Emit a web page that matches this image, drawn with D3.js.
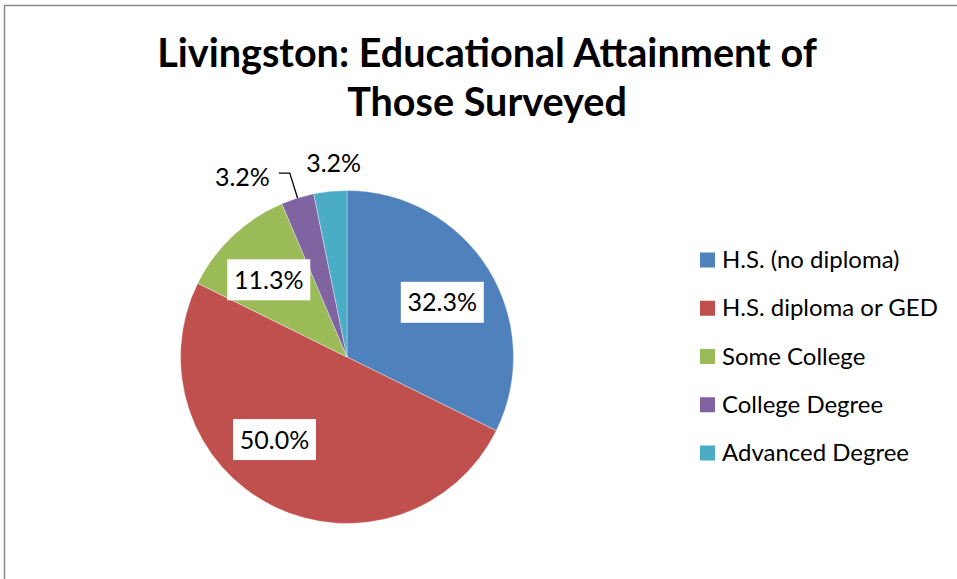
<!DOCTYPE html>
<html>
<head>
<meta charset="utf-8">
<script src="https://cdn.jsdelivr.net/npm/d3@7"></script>
<style>
  html, body { margin: 0; padding: 0; background: #fff; }
  svg { display: block; font-family: Lato, "Open Sans", "DejaVu Sans", sans-serif; }
</style>
</head>
<body>
<svg id="chart" width="957" height="579"></svg>
<script>
// Survey data: share of respondents by highest level of education (percent)
const categories = ["H.S. (no diploma)", "H.S. diploma or GED", "Some College", "College Degree", "Advanced Degree"];
const shares = [32.3, 50.0, 11.3, 3.2, 3.2];
const titleLines = ["Livingston: Educational Attainment of", "Those Surveyed"];

// Styling / layout
const colors = ["#4F81BD", "#C0504D", "#9BBB59", "#8064A2", "#4BACC6"];
const W = 957, H = 579;
const cx = 347, cy = 357, R = 166.5;
const insideR = 0.66 * R;
const outsideR = 193;
// best-fit placement tweaks for individual labels (degrees / radius)
const labelAngleShift = [2, 15, -2, 0, 0];
const leaderLabel = { index: 3, angle: 329.9, radius: 208.6 };

const svg = d3.select("#chart");
const deg = Math.PI / 180;

// Chart area border (left and top edges visible)
svg.append("path")
  .attr("d", `M4.5,${H + 2} L4.5,5.5 L${W + 2},5.5`)
  .attr("fill", "none")
  .attr("stroke", "#8a8a8a")
  .attr("stroke-width", 1.5);

// Title, each line fitted to its measured width
function fitText(sel, target) {
  const w = sel.node().getComputedTextLength();
  const fs = parseFloat(sel.attr("font-size"));
  sel.attr("font-size", fs * target / w);
}
const title = svg.append("g").attr("font-weight", "bold").attr("fill", "#000").attr("text-anchor", "middle");
const t1 = title.append("text").attr("x", 487).attr("y", 66.5).attr("font-size", 36).text(titleLines[0]);
fitText(t1, 660);
const t2 = title.append("text").attr("x", 487).attr("y", 115.5).attr("font-size", parseFloat(t1.attr("font-size"))).text(titleLines[1]);

// Pie
const pie = d3.pie().value(d => d).sort(null);
const arcs = pie(shares);
const arc = d3.arc().innerRadius(0).outerRadius(R);

const g = svg.append("g").attr("transform", `translate(${cx},${cy})`);
g.selectAll("path.slice")
  .data(arcs)
  .join("path")
  .attr("class", "slice")
  .attr("d", arc)
  .attr("fill", (d, i) => colors[i])
  .attr("stroke", "#ffffff")
  .attr("stroke-opacity", 0.6)
  .attr("stroke-width", 0.6);

const polar = (angDeg, r) => [r * Math.sin(angDeg * deg), -r * Math.cos(angDeg * deg)];
const fmt = v => d3.format(".1f")(v) + "%";
const labelFont = 25;

arcs.forEach((d, i) => {
  const mid = (d.startAngle + d.endAngle) / 2 / deg;
  const txt = fmt(shares[i]);
  if (shares[i] >= 10) {
    // inside label on a white box
    const [x, y] = polar(mid + labelAngleShift[i], insideR);
    const lg = g.append("g").attr("transform", `translate(${x},${y})`);
    const t = lg.append("text")
      .attr("text-anchor", "middle")
      .attr("y", 9)
      .attr("font-size", labelFont)
      .attr("fill", "#000")
      .text(txt);
    const bw = 83, bh = 41;
    lg.insert("rect", "text")
      .attr("x", -bw / 2).attr("y", -bh / 2)
      .attr("width", bw).attr("height", bh)
      .attr("fill", "#fff");
  } else if (i === leaderLabel.index) {
    // outside label pulled aside, with an elbow leader line
    const [lx, ly] = polar(leaderLabel.angle, leaderLabel.radius);
    const t = g.append("text")
      .attr("x", lx).attr("y", ly + 9)
      .attr("text-anchor", "middle")
      .attr("font-size", labelFont)
      .attr("fill", "#000")
      .text(txt);
    const tw = t.node().getComputedTextLength();
    const [ex, ey] = polar(mid, R);
    const elbowY = ly - 3.5;
    const elbowR = -elbowY / Math.cos(mid * deg);
    const [bx, by] = polar(mid, elbowR);
    g.append("path")
      .attr("d", `M${ex},${ey} L${bx},${by} L${lx + tw / 2 + 9},${by}`)
      .attr("fill", "none")
      .attr("stroke", "#000")
      .attr("stroke-width", 1.3);
  } else {
    const [x, y] = polar(mid, outsideR);
    g.append("text")
      .attr("x", x + 6).attr("y", y + 7)
      .attr("text-anchor", "middle")
      .attr("font-size", labelFont)
      .attr("fill", "#000")
      .text(txt);
  }
});

// Legend
const legendY = d3.scalePoint().domain(categories).range([260, 453]);
const legend = svg.append("g");
const rows = legend.selectAll("g")
  .data(categories)
  .join("g")
  .attr("transform", d => `translate(700,${legendY(d)})`);
rows.append("rect")
  .attr("x", 0).attr("y", -7.5)
  .attr("width", 15).attr("height", 15)
  .attr("fill", (d, i) => colors[i]);
const lt = rows.append("text")
  .attr("x", 22).attr("y", 8)
  .attr("font-size", 22)
  .attr("fill", "#000")
  .text(d => d);
// size legend text so the longest entry spans its measured width
const longest = lt.filter((d, i) => i === 1);
const lw = longest.node().getComputedTextLength();
lt.attr("font-size", 22 * 216 / lw);
</script>
</body>
</html>
